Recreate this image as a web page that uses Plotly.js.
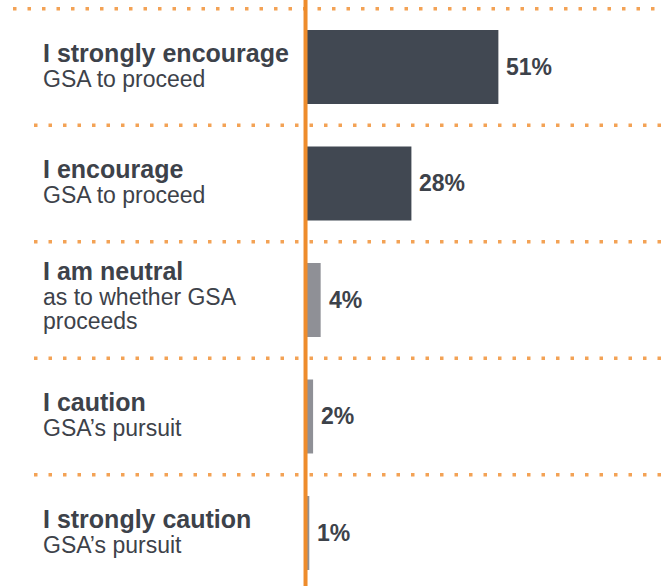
<!DOCTYPE html>
<html>
<head>
<meta charset="utf-8">
<script src="https://cdn.plot.ly/plotly-3.0.1.min.js"></script>
<style>html,body{margin:0;padding:0;background:#fff;}#chart{width:664px;height:586px;}</style>
</head>
<body>
<div id="chart"></div>
<script>
// Data
const categories = ["strongly_encourage", "encourage", "neutral", "caution", "strongly_caution"];
const titles = ["I strongly encourage", "I encourage", "I am neutral", "I caution", "I strongly caution"];
const subtitles = [["GSA to proceed"], ["GSA to proceed"], ["as to whether GSA", "proceeds"], ["GSA\u2019s pursuit"], ["GSA\u2019s pursuit"]];
const values = [51, 28, 4, 2, 1];
const valueLabels = ["51%", "28%", "4%", "2%", "1%"];

const darkColor = "#414852";
const grayColor = "#8f9096";
const textColor = "#3d424a";
const orange = "#ee8c2c";
const dotOrange = "#f3a255";

const barColors = values.map((v, i) => i < 2 ? darkColor : grayColor);
const idx = categories.map((c, i) => i);

const trace = {
  type: "bar",
  orientation: "h",
  y: idx,
  x: values,
  width: 0.635,
  marker: {color: barColors, line: {width: 0}},
  hoverinfo: "skip"
};

const annotations = [];
const font = "'Liberation Sans', Arial, Helvetica, sans-serif";
idx.forEach(i => {
  const nSub = subtitles[i].length;
  const boldShift = nSub === 1 ? 14 : 28.5;
  annotations.push({
    xref: "paper", yref: "y", x: 42 / 664, y: i, xanchor: "left", yanchor: "middle",
    yshift: boldShift, showarrow: false, borderpad: 0,
    text: "<b>" + titles[i] + "</b>",
    font: {family: font, size: 25, color: textColor}
  });
  subtitles[i].forEach((line, j) => {
    const shift = nSub === 1 ? -12 : (3 - 24 * j);
    annotations.push({
      xref: "paper", yref: "y", x: 42 / 664, y: i, xanchor: "left", yanchor: "middle",
      yshift: shift, showarrow: false, borderpad: 0, text: line,
      font: {family: font, size: 23, color: textColor}
    });
  });
  annotations.push({
    xref: "x", yref: "y", x: values[i], y: i, xanchor: "left", yanchor: "middle",
    xshift: 6, showarrow: false, text: "<b>" + valueLabels[i] + "</b>",
    font: {family: font, size: 23, color: textColor}
  });
});

const shapes = [];
for (let k = 0; k <= categories.length - 1; k++) {
  shapes.push({
    type: "line", xref: "paper", yref: "y",
    x0: (k === 0 ? 13 : 34) / 664, x1: 1, y0: k - 0.5, y1: k - 0.5,
    line: {color: dotOrange, width: 3.5, dash: "3.5px,11px"},
    layer: "below"
  });
}
shapes.push({
  type: "line", xref: "x", yref: "paper", x0: 0, x1: 0, y0: 0, y1: 1,
  line: {color: orange, width: 4}, layer: "above"
});

const layout = {
  width: 664, height: 586,
  margin: {l: 0, r: 0, t: 0, b: 0, pad: 0},
  paper_bgcolor: "#ffffff", plot_bgcolor: "#ffffff",
  showlegend: false,
  xaxis: {range: [-80.8, 94.8], visible: false, fixedrange: true},
  yaxis: {range: [4.455, -0.575], visible: false, fixedrange: true},
  annotations: annotations,
  shapes: shapes
};

Plotly.newPlot("chart", [trace], layout, {displayModeBar: false, staticPlot: true});
</script>
</body>
</html>
